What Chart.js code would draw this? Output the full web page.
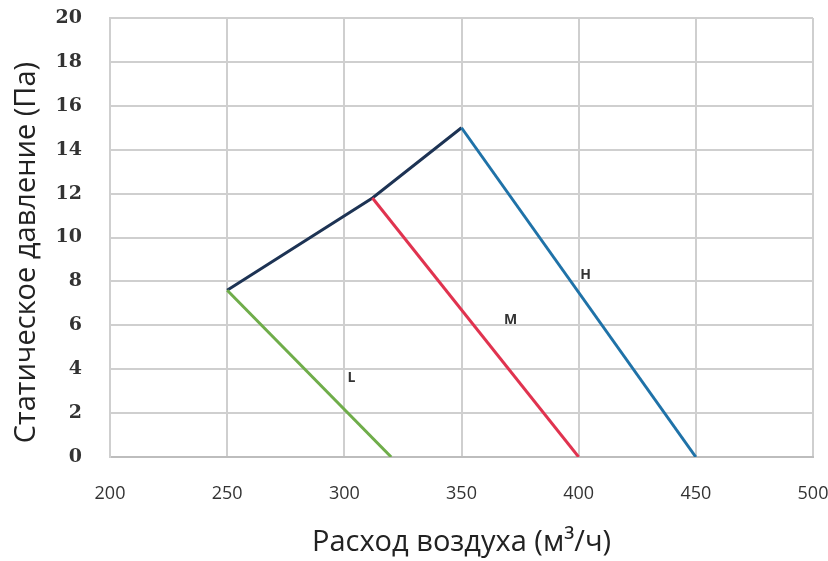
<!DOCTYPE html>
<html>
<head>
<meta charset="utf-8">
<script src="https://cdn.jsdelivr.net/npm/chart.js@4/dist/chart.umd.min.js"></script>
<style>
  html, body { margin: 0; padding: 0; background: #fff; }
  #wrap { width: 828px; height: 561px; }
</style>
</head>
<body>
<div id="wrap"><canvas id="fanChart"></canvas></div>
<script>
// Airflow (m3/h) vs static pressure (Pa)
const maxCurveX = [250, 312, 350];
const maxCurveY = [7.6, 11.8, 15];

const lowX = [250, 320];
const lowY = [7.6, 0];

const midX = [312, 400];
const midY = [11.8, 0];

const highX = [350, 450];
const highY = [15, 0];

// speed labels placed on the chart
const speedNames = ["L", "M", "H"];
const speedLabelX = [303, 371, 403];
const speedLabelY = [3.6, 6.25, 8.3];

const xTicks = [200, 250, 300, 350, 400, 450, 500];
const yTicks = [0, 2, 4, 6, 8, 10, 12, 14, 16, 18, 20];

function toPoints(xs, ys) {
  return xs.map((x, i) => ({ x: x, y: ys[i] }));
}

// draws L / M / H next to the lines
const speedLabels = {
  id: "speedLabels",
  afterDatasetsDraw(chart) {
    const ctx = chart.ctx;
    const xs = chart.scales.x;
    const ys = chart.scales.y;
    ctx.save();
    ctx.font = "bold 14px 'Open Sans', sans-serif";
    ctx.fillStyle = "#333";
    ctx.textAlign = "center";
    ctx.textBaseline = "middle";
    speedNames.forEach((name, i) => {
      ctx.fillText(name, xs.getPixelForValue(speedLabelX[i]), ys.getPixelForValue(speedLabelY[i]));
    });
    ctx.restore();
  }
};

function lineSet(label, xs, ys, color) {
  return {
    label: label,
    data: toPoints(xs, ys),
    showLine: true,
    borderColor: color,
    backgroundColor: color,
    borderWidth: 3,
    pointRadius: 0,
    tension: 0
  };
}

const ctx = document.getElementById("fanChart").getContext("2d");
const fanChart = new Chart(ctx, {
  type: "scatter",
  data: {
    datasets: [
      lineSet("L", lowX, lowY, "#6fad4a"),
      lineSet("M", midX, midY, "#e0334f"),
      lineSet("H", highX, highY, "#1f72a8"),
      lineSet("max", maxCurveX, maxCurveY, "#1d3354")
    ]
  },
  options: {
    responsive: true,
    maintainAspectRatio: false,
    animation: false,
    layout: { padding: { top: 18, right: 15, left: 0, bottom: 0 } },
    plugins: {
      legend: { display: false },
      tooltip: { enabled: false }
    },
    scales: {
      x: {
        type: "linear",
        min: 200,
        max: 500,
        afterBuildTicks: (scale) => { scale.ticks = xTicks.map(v => ({ value: v })); },
        afterFit: (scale) => {
          scale.height = 104;
          scale.paddingLeft = 0;
          scale.paddingRight = 0;
        },
        ticks: {
          padding: 26,
          color: "#333",
          font: { family: "'Open Sans', sans-serif", size: 18 }
        },
        grid: { color: "#cfcfcf", lineWidth: 2, drawTicks: false },
        border: { color: "#bdbdbd", width: 2 },
        title: {
          display: true,
          text: "Расход воздуха (м³/ч)",
          color: "#222",
          font: { family: "'Open Sans', sans-serif", size: 29 },
          padding: 1
        }
      },
      y: {
        type: "linear",
        min: 0,
        max: 20,
        afterBuildTicks: (scale) => { scale.ticks = yTicks.map(v => ({ value: v })); },
        afterFit: (scale) => {
          scale.width = 110;
          scale.paddingTop = 0;
          scale.paddingBottom = 0;
        },
        ticks: {
          padding: 28,
          color: "#333",
          font: { family: "'DejaVu Serif', serif", size: 19, weight: "bold" }
        },
        grid: { color: "#cfcfcf", lineWidth: 2, drawTicks: false },
        border: { color: "#cfcfcf", width: 2 },
        title: {
          display: true,
          // trailing spaces push the rotated title a bit lower, as in the original
          text: "Статическое давление (Па)\u00A0\u00A0\u00A0\u00A0",
          color: "#222",
          font: { family: "'Open Sans', sans-serif", size: 29 },
          padding: 9
        }
      }
    }
  },
  plugins: [speedLabels]
});
</script>
</body>
</html>
